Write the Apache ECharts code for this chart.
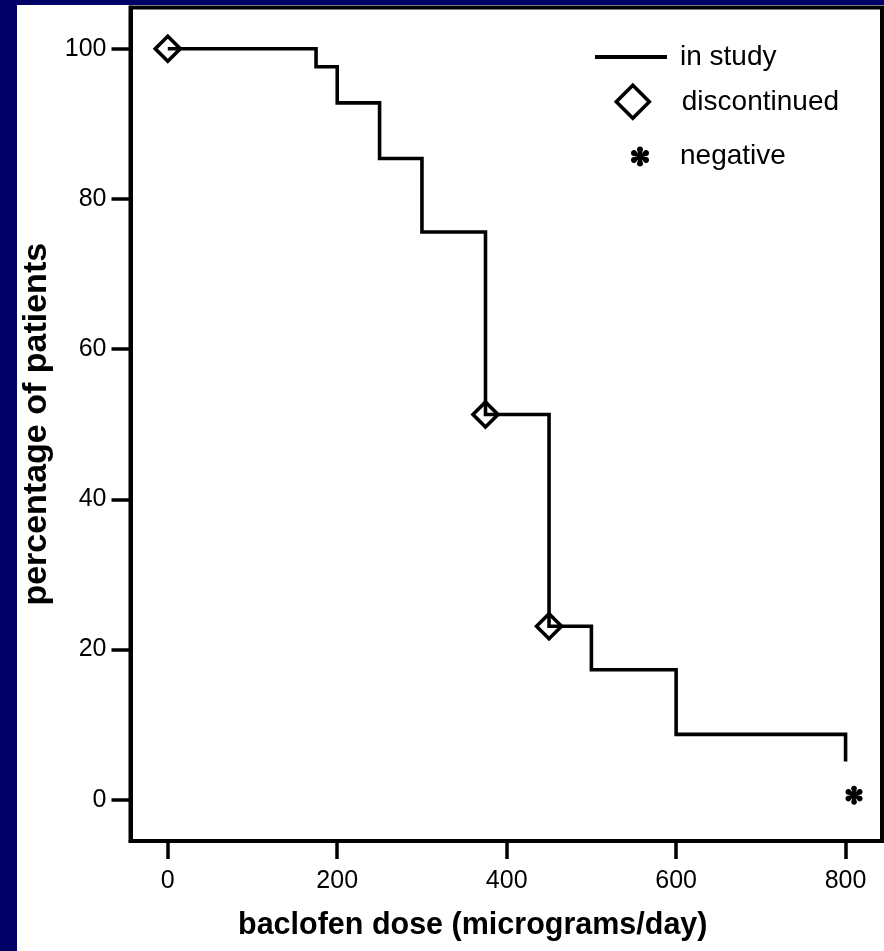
<!DOCTYPE html>
<html>
<head>
<meta charset="utf-8">
<script src="https://cdn.jsdelivr.net/npm/echarts@6/dist/echarts.min.js"></script>
<style>
  html, body { margin: 0; padding: 0; background: #000066; }
  #chart { position: absolute; left: 17px; top: 5px; width: 867px; height: 946px; background: #ffffff; }
</style>
</head>
<body>
<div id="chart"></div>
<script>
// Dose steps (micrograms/day) and share of patients still in study (%)
const doses = [0, 175, 200, 250, 300, 375, 450, 500, 600, 800];
const inStudyPct = [100, 97.6, 92.8, 85.4, 75.6, 51.3, 23.1, 17.3, 8.7, 5.1];
// Doses at which patients discontinued
const discontinuedDoses = [0, 375, 450];
// Negative outcome marker
const negativeDose = [810];
const negativePct = [0.6];
// Axis tick labels
const xTicks = [0, 200, 400, 600, 800];
const yTicks = [0, 20, 40, 60, 80, 100];

const FONT = '"Liberation Sans", Arial, Helvetica, sans-serif';

// Six teardrop spokes, used as the asterisk symbol
function asteriskPath() {
  const c = 20, b = 1.3, d = 13, r = 5.8;
  let s = '';
  [90, 30, -30, -90, -150, 150].forEach(function (deg) {
    const a = deg * Math.PI / 180;
    const ux = Math.cos(a), uy = -Math.sin(a);
    const px = -uy, py = ux;
    s += 'M' + (c + px * b).toFixed(2) + ',' + (c + py * b).toFixed(2);
    for (let k = 0; k <= 16; k++) {
      const t = Math.PI / 2 - Math.PI * k / 16;
      const x = c + ux * d + (px * Math.sin(t) + ux * Math.cos(t)) * r;
      const y = c + uy * d + (py * Math.sin(t) + uy * Math.cos(t)) * r;
      s += 'L' + x.toFixed(2) + ',' + y.toFixed(2);
    }
    s += 'L' + (c - px * b).toFixed(2) + ',' + (c - py * b).toFixed(2) + 'Z';
  });
  return 'path://' + s;
}
const ASTERISK = asteriskPath();

const stepData = doses.map(function (d, i) { return [d, inStudyPct[i]]; });
const discontinuedData = discontinuedDoses.map(function (d) {
  return [d, inStudyPct[doses.indexOf(d)]];
});
const negativeData = negativeDose.map(function (d, i) { return [d, negativePct[i]]; });

const chart = echarts.init(document.getElementById('chart'), null, { renderer: 'canvas' });

const legendText = { fontFamily: FONT, fontSize: 28, color: '#000', lineHeight: 30 };

chart.setOption({
  animation: false,
  backgroundColor: '#ffffff',
  grid: {
    left: 113.5, top: 2.5, right: 2, bottom: 110,
    outerBoundsMode: 'none', containLabel: false,
    show: true, borderColor: '#000', borderWidth: 4, backgroundColor: 'transparent'
  },
  legend: [
    {
      data: [{ name: 'in study', icon: 'rect' }], left: 578, top: 37, orient: 'vertical', padding: 0,
      itemWidth: 72, itemHeight: 4, selectedMode: false,
      itemStyle: { color: '#000', borderWidth: 0, opacity: 1 },
      textStyle: Object.assign({ padding: [0, 0, 0, 8] }, legendText)
    },
    {
      data: [{ name: 'discontinued', icon: 'diamond' }], left: 597.5, top: 78.5, orient: 'vertical', padding: 0,
      itemWidth: 33, itemHeight: 33, selectedMode: false,
      itemStyle: { color: 'rgba(0,0,0,0)', borderColor: '#000', borderWidth: 3.6, opacity: 1 },
      textStyle: Object.assign({ padding: [0, 0, 0, 27.5] }, legendText)
    },
    {
      data: [{ name: 'negative', icon: ASTERISK }], left: 614, top: 136.5, orient: 'vertical', padding: 0,
      itemWidth: 18, itemHeight: 20, selectedMode: false,
      itemStyle: { color: '#000', borderWidth: 0, opacity: 1 },
      textStyle: Object.assign({ padding: [0, 0, 0, 26] }, legendText)
    }
  ],
  xAxis: {
    type: 'value', min: -44, max: 843,
    name: 'baclofen dose (micrograms/day)', nameLocation: 'middle', nameGap: 69,
    nameTextStyle: { fontFamily: FONT, fontSize: 30.5, fontWeight: 'bold', color: '#000', padding: [0, 67, 0, 0] },
    axisLine: { show: true, onZero: false, lineStyle: { color: '#000', width: 4 } },
    axisTick: { show: true, inside: false, length: 18, customValues: xTicks, lineStyle: { color: '#000', width: 3.5 } },
    axisLabel: { customValues: xTicks, margin: 28, fontFamily: FONT, fontSize: 25, color: '#000' },
    splitLine: { show: false }
  },
  yAxis: {
    type: 'value', min: -5.5, max: 105.5,
    name: 'percentage of patients', nameLocation: 'middle', nameGap: 69, nameRotate: 90,
    nameTextStyle: { fontFamily: FONT, fontSize: 34, fontWeight: 'bold', color: '#000' },
    axisLine: { show: true, onZero: false, lineStyle: { color: '#000', width: 4 } },
    axisTick: { show: true, inside: false, length: 19, customValues: yTicks, lineStyle: { color: '#000', width: 3.5 } },
    axisLabel: { customValues: yTicks, margin: 24, fontFamily: FONT, fontSize: 25, color: '#000' },
    splitLine: { show: false }
  },
  series: [
    {
      name: 'in study', type: 'line', step: 'end', data: stepData,
      symbol: 'none', silent: true,
      lineStyle: { color: '#000', width: 3.6, join: 'miter', cap: 'butt', opacity: 1 },
      itemStyle: { color: '#000' },
      z: 2
    },
    {
      name: 'discontinued', type: 'scatter', data: discontinuedData,
      symbol: 'diamond', symbolSize: 25, silent: true,
      itemStyle: { color: 'rgba(0,0,0,0)', borderColor: '#000', borderWidth: 3.6, opacity: 1 },
      z: 3
    },
    {
      name: 'negative', type: 'scatter', data: negativeData,
      symbol: ASTERISK, symbolSize: [17, 19], silent: true,
      itemStyle: { color: '#000', opacity: 1 },
      z: 3
    }
  ]
});
</script>
</body>
</html>
